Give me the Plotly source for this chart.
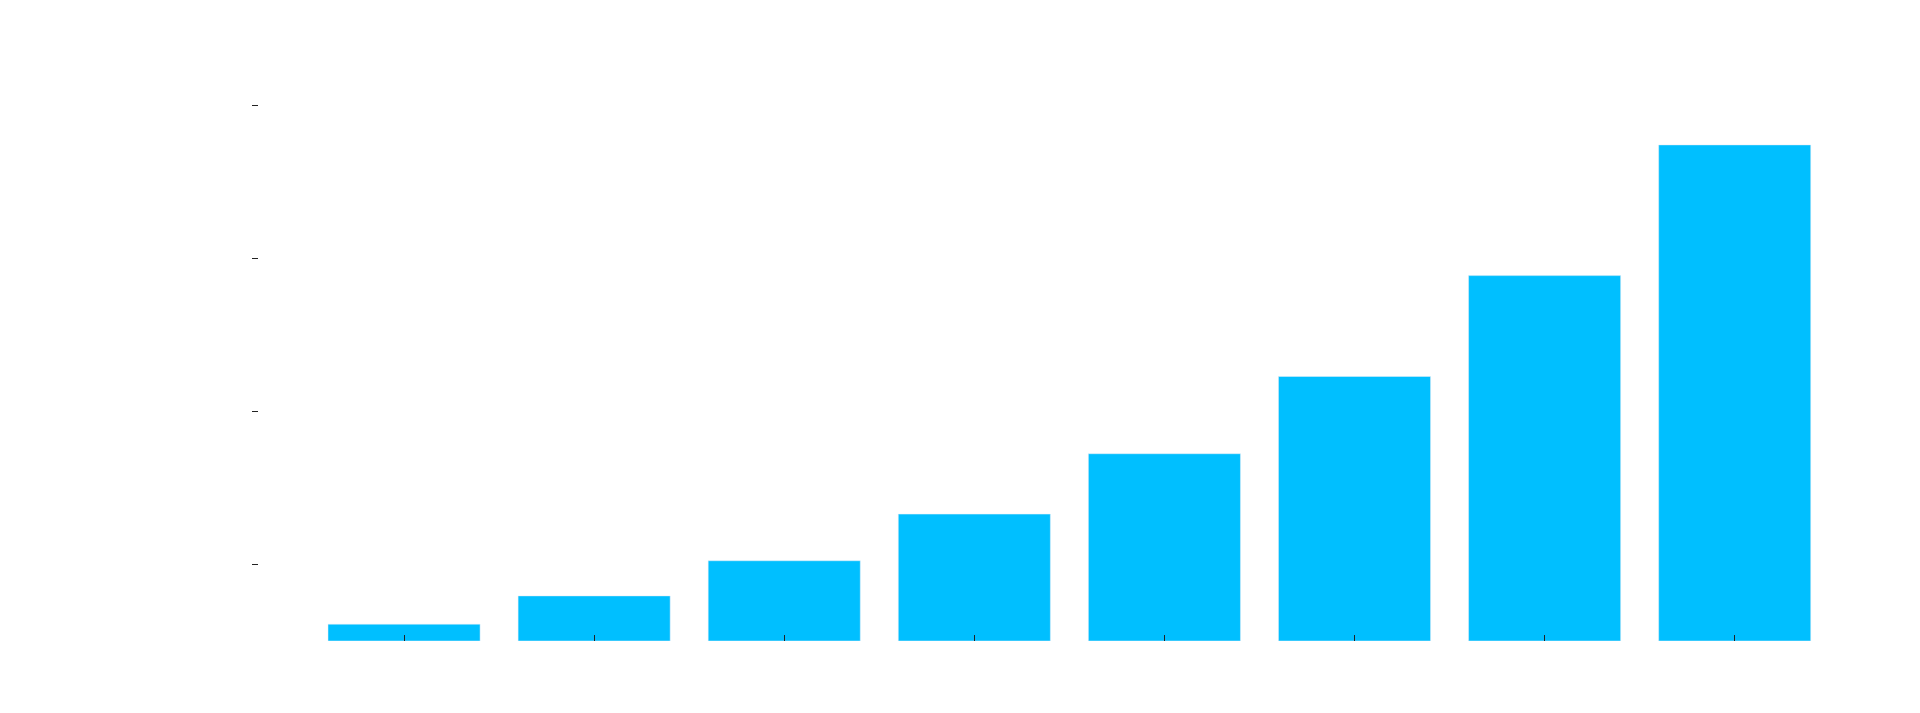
import plotly.graph_objects as go

# categories and values
categories = [1, 2, 3, 4, 5, 6, 7, 8]
values = [11, 29.5, 52.5, 83, 122.5, 173, 239, 324.5]
y_ticks = [50, 150, 250, 350]

fig = go.Figure()

fig.add_trace(go.Bar(
    x=categories,
    y=values,
    marker=dict(color='#00BFFF', line=dict(color='#E5ECF6', width=0.5)),
))

fig.update_layout(
    width=1920,
    height=713,
    margin=dict(l=251, r=80, t=60, b=80),
    paper_bgcolor='white',
    plot_bgcolor='white',
    showlegend=False,
    bargap=0.2,
    xaxis=dict(
        range=[0.237, 8.596],
        tickvals=categories,
        ticks='inside',
        ticklen=6,
        tickcolor='#222',
        showgrid=False,
        zeroline=False,
        showline=False,
        tickfont=dict(color='white'),
    ),
    yaxis=dict(
        range=[0, 374.8],
        tickvals=y_ticks,
        ticks='outside',
        ticklen=6,
        tickcolor='#222',
        showgrid=False,
        zeroline=False,
        showline=False,
        tickfont=dict(color='white'),
    ),
)

fig.write_html("out.html")
